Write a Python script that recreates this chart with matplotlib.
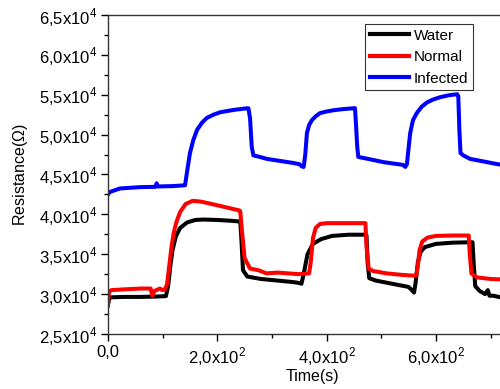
#!/usr/bin/env python3

import numpy as np
import matplotlib
matplotlib.use( 'Agg' )
import matplotlib.pyplot as plt
from matplotlib.ticker import FixedLocator, MultipleLocator

plt.rcParams['font.family'] = [ 'Liberation Sans', 'DejaVu Sans' ]
plt.rcParams['mathtext.fontset'] = 'custom'
plt.rcParams['mathtext.rm'] = 'Liberation Sans'

# Water (black)
t_water = [ 0, 2, 6, 30, 60, 90, 106, 110, 114, 118, 124, 132, 145, 160, 175, 200,
            225, 242, 244, 247, 255, 280, 310, 340, 350, 354, 358, 365, 375, 390,
            410, 440, 470, 473, 475, 478, 490, 520, 550, 556, 560, 563, 567, 572,
            580, 600, 630, 660, 667, 669, 672, 680, 690, 695, 698, 705, 718 ]
r_water = [ 28600, 29500, 29600, 29650, 29650, 29700, 29750, 31000, 33500, 35500,
            37200, 38300, 39000, 39300, 39350, 39300, 39200, 39100, 37000, 33000,
            32200, 31900, 31700, 31500, 31400, 31300, 32500, 35000, 36300, 36900,
            37300, 37450, 37450, 37400, 34000, 32000, 31700, 31300, 30900, 30500,
            30200, 31500, 34000, 35300, 35900, 36300, 36450, 36500, 36500, 34000,
            31000, 30400, 30000, 30500, 29800, 29800, 29600 ]

# Normal (red)
t_normal = [ 0, 2, 6, 30, 60, 78, 81, 85, 95, 100, 104, 108, 112, 116, 120, 125,
             132, 142, 155, 170, 190, 215, 240, 242, 245, 250, 260, 275, 290, 310,
             350, 368, 371, 375, 380, 388, 400, 430, 460, 471, 473, 477, 485, 510,
             540, 564, 567, 570, 575, 585, 600, 630, 660, 662, 665, 675, 700, 718 ]
r_normal = [ 28700, 30300, 30500, 30600, 30700, 30700, 29800, 30400, 30700, 30500,
             30600, 31200, 33500, 35800, 37600, 39000, 40300, 41300, 41700, 41600,
             41300, 40900, 40500, 40400, 38000, 34500, 33200, 33000, 32600, 32700,
             32500, 32600, 34000, 37000, 38300, 38800, 38900, 38900, 38900, 38900,
             36000, 33200, 32900, 32600, 32400, 32300, 33500, 35500, 36600, 37100,
             37300, 37350, 37350, 35000, 32600, 32100, 31900, 31850 ]

# Infected (blue)
t_infected = [ 0, 3, 22, 60, 87, 89, 91, 120, 141, 145, 150, 156, 163, 172, 181,
               193, 205, 230, 254, 257, 260, 263, 266, 278, 291, 315, 339, 350, 355,
               358, 361, 364, 368, 373, 380, 388, 400, 412, 430, 452, 454, 456, 458,
               480, 504, 530, 540, 544, 547, 550, 553, 558, 565, 574, 584, 595, 608,
               625, 639, 641, 643, 645, 650, 663, 690, 712, 718 ]
r_infected = [ 42500, 42800, 43250, 43420, 43450, 43900, 43500, 43550, 43650, 45500,
               47700, 49300, 50600, 51500, 52100, 52500, 52800, 53100, 53300, 53300,
               52000, 48500, 47400, 47200, 46950, 46700, 46450, 46300, 46000, 45950,
               47500, 50200, 51200, 51800, 52300, 52700, 52900, 53050, 53200, 53320,
               51000, 48500, 47200, 46900, 46550, 46300, 46200, 45950, 46300, 48300,
               50200, 51800, 52700, 53500, 54050, 54400, 54700, 54950, 55070, 54800,
               50500, 47700, 47400, 46950, 46600, 46300, 46250 ]

NX = 5.0
NY = 3.89
fig = plt.figure( figsize = (NX,NY), dpi = 100 )
ax = fig.add_axes( [ 108/500, 1 - 334/389, 750*0.5465/500, 319/389 ] )

lw = 2.9
ax.plot( t_water   , r_water   , c = 'black'  , lw = lw, label = 'Water' )
ax.plot( t_normal  , r_normal  , c = '#ff0000', lw = lw, label = 'Normal' )
ax.plot( t_infected, r_infected, c = '#0000ff', lw = lw, label = 'Infected' )

ax.set_xlim( 0, 750 )
ax.set_ylim( 25000, 65000 )

xt = [ 0, 200, 400, 600 ]
yt = [ 25000, 30000, 35000, 40000, 45000, 50000, 55000, 60000, 65000 ]
ax.xaxis.set_major_locator( FixedLocator( xt ) )
ax.yaxis.set_major_locator( FixedLocator( yt ) )
ax.xaxis.set_minor_locator( MultipleLocator( 100 ) )
ax.yaxis.set_minor_locator( MultipleLocator( 2500 ) )
ax.set_xticklabels( [ '0,0', r'2,0x10$^2$', r'4,0x10$^2$', r'6,0x10$^2$' ] )
ax.set_yticklabels( [ r'{:.1f}x10$^4$'.format( v/1e4 ).replace( '.', ',' ) for v in yt ] )

ax.tick_params( which = 'both', direction = 'out', top = False, right = False,
                labelsize = 12, width = 1.0 )
ax.tick_params( which = 'major', length = 5, pad = 3 )
ax.tick_params( which = 'minor', length = 3 )
for s in ax.spines.values():
    s.set_linewidth( 1.0 )
    s.set_color( '#333333' )

ax.set_xlabel( 'Time(s)', fontsize = 11.5, labelpad = 1 )
ax.set_ylabel( r'Resistance($\Omega$)', fontsize = 11.5, labelpad = 6 )

leg = ax.legend( loc = 'upper left', bbox_to_anchor = ( 0.627, 0.972 ),
                 fontsize = 11, frameon = True, fancybox = False,
                 borderpad = 0.3, handlelength = 2.6, handletextpad = 0.3,
                 labelspacing = 0.5, borderaxespad = 0 )
leg.get_frame().set_edgecolor( 'black' )
leg.get_frame().set_linewidth( 0.8 )
for h in leg.get_lines():
    h.set_linewidth( 3.0 )

fig.savefig( 'out.png', dpi = 100 )
